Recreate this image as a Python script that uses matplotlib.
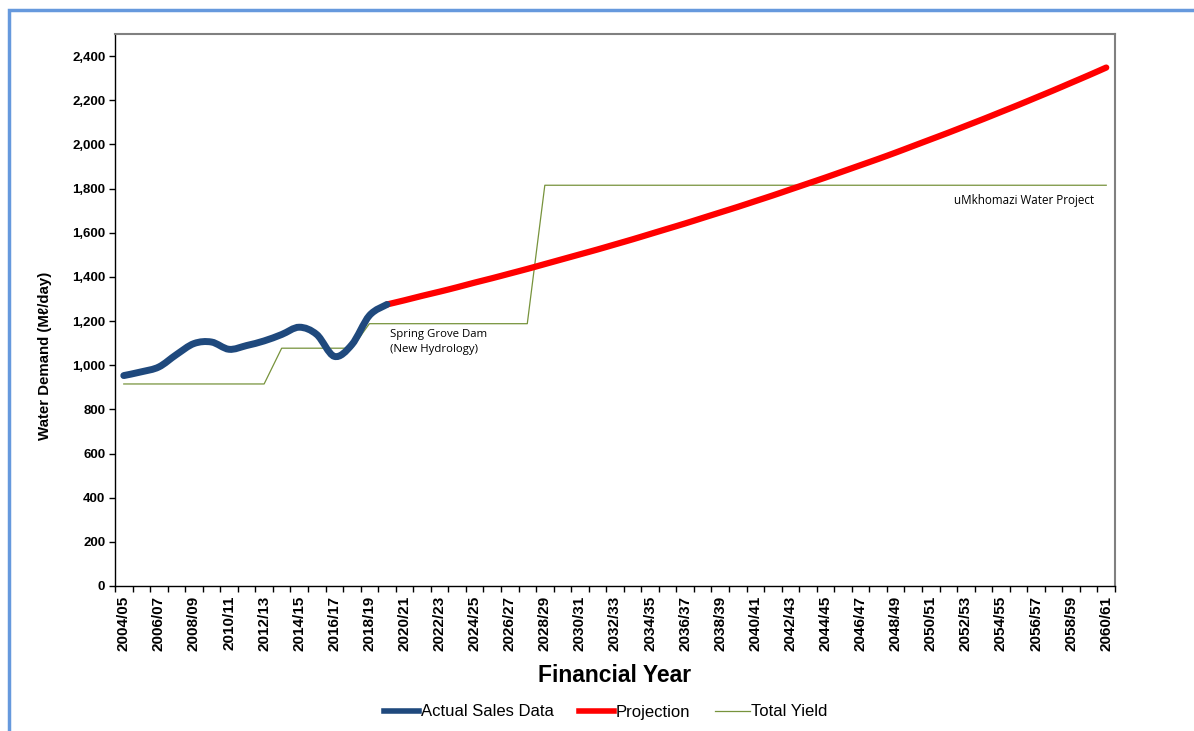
import matplotlib
matplotlib.use("Agg")
import matplotlib.pyplot as plt
from matplotlib.path import Path
from matplotlib.patches import PathPatch, Rectangle
from matplotlib.lines import Line2D

years = [f"{y}/{str(y + 1)[-2:]}" for y in range(2004, 2061)]

actual_idx = list(range(0, 16))
actual = [953, 970, 992, 1048, 1098, 1105, 1072, 1089, 1110, 1139, 1172, 1139, 1040, 1093, 1225, 1275]

proj_idx = list(range(15, 57))
projection = [1275, 1294, 1314, 1333, 1353, 1374, 1394, 1415, 1436, 1458,
              1480, 1502, 1524, 1547, 1570, 1594, 1618, 1642, 1667, 1692,
              1717, 1743, 1769, 1796, 1823, 1850, 1878, 1906, 1934, 1963,
              1993, 2023, 2053, 2084, 2115, 2147, 2179, 2212, 2245, 2279,
              2313, 2348]

yield_idx = [0, 8, 9, 13, 14, 23, 24, 56]
total_yield = [915, 915, 1077, 1077, 1188, 1188, 1815, 1815]

yticks = list(range(0, 2401, 200))

BLUE = "#1F497D"
RED = "#FF0000"
GREEN = "#77933C"


def smooth_path(xs, ys, t=1 / 6):
    verts = [(xs[0], ys[0])]
    codes = [Path.MOVETO]
    n = len(xs)
    for i in range(n - 1):
        x0, y0 = (xs[i - 1], ys[i - 1]) if i > 0 else (xs[i], ys[i])
        x1, y1 = xs[i], ys[i]
        x2, y2 = xs[i + 1], ys[i + 1]
        x3, y3 = (xs[i + 2], ys[i + 2]) if i + 2 < n else (x2, y2)
        c1 = (x1 + (x2 - x0) * t, y1 + (y2 - y0) * t)
        c2 = (x2 - (x3 - x1) * t, y2 - (y3 - y1) * t)
        verts += [c1, c2, (x2, y2)]
        codes += [Path.CURVE4] * 3
    return Path(verts, codes)


fig = plt.figure(figsize=(11.94, 7.31), dpi=100)
ax = fig.add_axes([115 / 1194, 1 - 586 / 731, 1000 / 1194, 552 / 731])

ax.plot(yield_idx, total_yield, color=GREEN, lw=0.9, zorder=2)
ax.add_patch(PathPatch(smooth_path(proj_idx, projection), fill=False,
                       edgecolor=RED, lw=4.5, capstyle="round", zorder=3))
ax.add_patch(PathPatch(smooth_path(actual_idx, actual), fill=False,
                       edgecolor=BLUE, lw=5, capstyle="round", zorder=4))

ax.set_xlim(-0.5, 56.5)
ax.set_ylim(0, 2500)

ax.set_yticks(yticks)
ax.set_yticklabels([f"{v:,}" for v in yticks], fontsize=9.5, fontweight="bold",
                   family="Liberation Sans")
ax.tick_params(axis="y", direction="out", length=4, width=1, pad=3)

ax.set_xticks(list(range(0, 57, 2)))
ax.set_xticklabels(years[::2], rotation=90, fontsize=11, fontweight="bold",
                   family="Liberation Sans")
ax.set_xticks([i - 0.5 for i in range(58)], minor=True)
ax.tick_params(axis="x", which="major", length=0, pad=7)
ax.tick_params(axis="x", which="minor", direction="out", length=4, width=1)

for s in ["left", "bottom"]:
    ax.spines[s].set_color("black")
    ax.spines[s].set_linewidth(1)
for s in ["top", "right"]:
    ax.spines[s].set_color("#808080")
    ax.spines[s].set_linewidth(1.5)

ax.set_ylabel("Water Demand (M\u2113/day)", fontsize=10.8, fontweight="bold",
              family="Liberation Sans")
ax.yaxis.set_label_coords(-0.063, 0.417)
ax.set_xlabel("Financial Year", fontsize=16.5, fontweight="bold",
              family="Liberation Sans")
ax.xaxis.set_label_coords(0.5, -(676 - 586) / 552)
ax.xaxis.label.set_va("center")

ax.text(15.15, 1165, "Spring Grove Dam\n(New Hydrology)", fontsize=8.2,
        family="Open Sans", va="top", ha="left", linespacing=1.55)
ax.text(55.33, 1775, "uMkhomazi Water Project", fontsize=8.4,
        family="Open Sans", va="top", ha="right")

handles = [Line2D([], [], color=BLUE, lw=4),
           Line2D([], [], color=RED, lw=4),
           Line2D([], [], color=GREEN, lw=0.9)]
fig.legend(handles, ["Actual Sales Data", "Projection", "Total Yield"],
           loc="center", bbox_to_anchor=(606 / 1194, 1 - 712 / 731), ncol=3,
           frameon=False, prop={"family": "Liberation Sans", "size": 12},
           handlelength=2.1, handletextpad=0.1, columnspacing=1.5)

fig.add_artist(Rectangle((9 / 1194, -0.05), 1.2, 1 - 10 / 731 + 0.05,
                         transform=fig.transFigure, fill=False,
                         edgecolor="#6699DD", lw=2.5))

fig.savefig("out.png", dpi=100)
